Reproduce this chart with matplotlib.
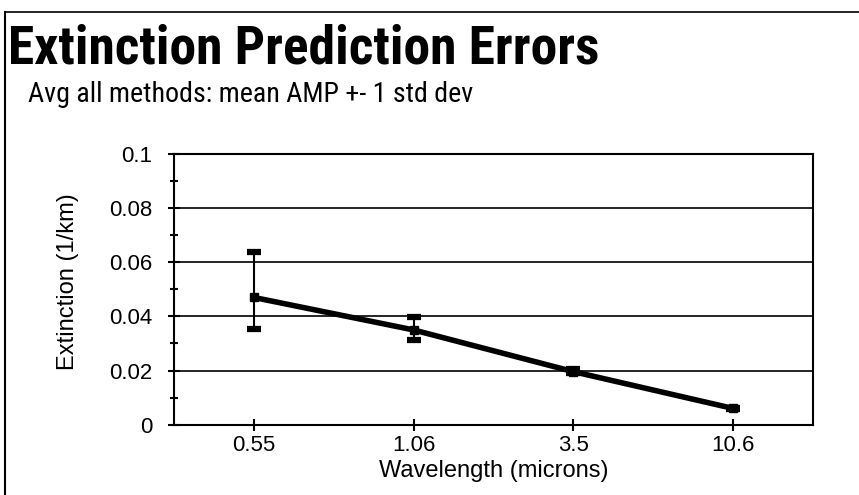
import matplotlib
matplotlib.use("Agg")
import matplotlib.pyplot as plt
from matplotlib.lines import Line2D
from matplotlib import font_manager
from matplotlib.font_manager import FontProperties

# Data
wavelengths = ["0.55", "1.06", "3.5", "10.6"]
mean_amp = [0.047, 0.035, 0.0196, 0.006]
upper = [0.0638, 0.0399, 0.0204, 0.0063]
lower = [0.0354, 0.0313, 0.0190, 0.0058]
y_ticks = [0, 0.02, 0.04, 0.06, 0.08, 0.1]
y_tick_labels = ["0", "0.02", "0.04", "0.06", "0.08", "0.1"]

title = "Extinction Prediction Errors"
subtitle = "Avg all methods: mean AMP +- 1 std dev"

W, H = 859, 495


def pick_font(bold):
    """Prefer a narrow / condensed sans face for the headings."""
    keys = ["LiberationSansNarrow", "RobotoCondensed", "DejaVuSansCondensed",
            "OpenSansCondensed", "OpenSans_Condensed"]
    files = [f for f in font_manager.fontManager.ttflist]
    for k in keys:
        for f in files:
            base = f.fname.split("/")[-1].replace("-", "").replace(" ", "")
            if k.lower() in base.lower():
                isbold = f.weight in ("bold", 700) or (isinstance(f.weight, int) and f.weight >= 600)
                if isbold == bold and ("italic" not in base.lower() and "oblique" not in base.lower()):
                    return FontProperties(fname=f.fname)
    return FontProperties(family="Liberation Sans", weight="bold" if bold else "normal")


fig = plt.figure(figsize=(W / 100, H / 100), dpi=100)
fig.patch.set_facecolor("white")

# Slide frame: top and left rules
fig.add_artist(Line2D([5 / W, 1.0], [1 - 12 / H, 1 - 12 / H], color="black", lw=1.2,
                      transform=fig.transFigure))
fig.add_artist(Line2D([5 / W, 5 / W], [0, 1 - 12 / H], color="black", lw=1.5,
                      transform=fig.transFigure))

title_fp = pick_font(True)
sub_fp = pick_font(False)
t1 = fig.text(8 / W, 1 - 64 / H, title, fontproperties=title_fp, ha="left", va="baseline")
t2 = fig.text(28 / W, 1 - 102 / H, subtitle, fontproperties=sub_fp, ha="left", va="baseline")
t1.set_fontsize(41)
t2.set_fontsize(20)

# Fit heading widths to the slide layout
renderer = fig.canvas.get_renderer()
for t, target in ((t1, 592), (t2, 445)):
    w = t.get_window_extent(renderer).width
    t.set_fontsize(t.get_fontsize() * target / w)

ax = fig.add_axes([174 / W, 1 - 424.7 / H, (813 - 174) / W, (424.7 - 154) / H])
x = list(range(len(wavelengths)))
yerr = [[m - lo for m, lo in zip(mean_amp, lower)], [u - m for m, u in zip(mean_amp, upper)]]

ax.errorbar(x, mean_amp, yerr=yerr, fmt="none", ecolor="black", elinewidth=1.5,
            capsize=5, capthick=4.5, zorder=3)
ax.plot(x, mean_amp, color="black", lw=4, marker="s", markersize=6,
        solid_capstyle="butt", zorder=4)

ax.set_xlim(-0.5, len(wavelengths) - 0.5)
ax.set_ylim(0, 0.1)
ax.set_xticks(x)
ax.set_xticklabels(wavelengths)
ax.set_yticks(y_ticks)
ax.set_yticklabels(y_tick_labels)
ax.set_yticks([0.01, 0.03, 0.05, 0.07, 0.09], minor=True)
ax.yaxis.grid(True, which="major", color="black", lw=1.2)
ax.set_axisbelow(True)

for sp in ax.spines.values():
    sp.set_linewidth(1.5)
    sp.set_color("black")

ax.tick_params(axis="both", which="major", direction="inout", length=9, width=1.5,
               labelsize=16)
ax.tick_params(axis="x", which="major", pad=3)
ax.tick_params(axis="y", which="major", pad=11)
ax.tick_params(axis="y", which="minor", direction="inout", length=6, width=1.5)
for lbl in ax.get_xticklabels() + ax.get_yticklabels():
    lbl.set_family("Liberation Sans")

ax.set_xlabel("Wavelength (microns)", fontsize=17, family="Liberation Sans", labelpad=3)
ax.set_ylabel("Extinction (1/km)", fontsize=17, family="Liberation Sans")
ax.yaxis.set_label_coords(-0.148, 0.53)

fig.savefig("out.png", dpi=100, facecolor="white")
